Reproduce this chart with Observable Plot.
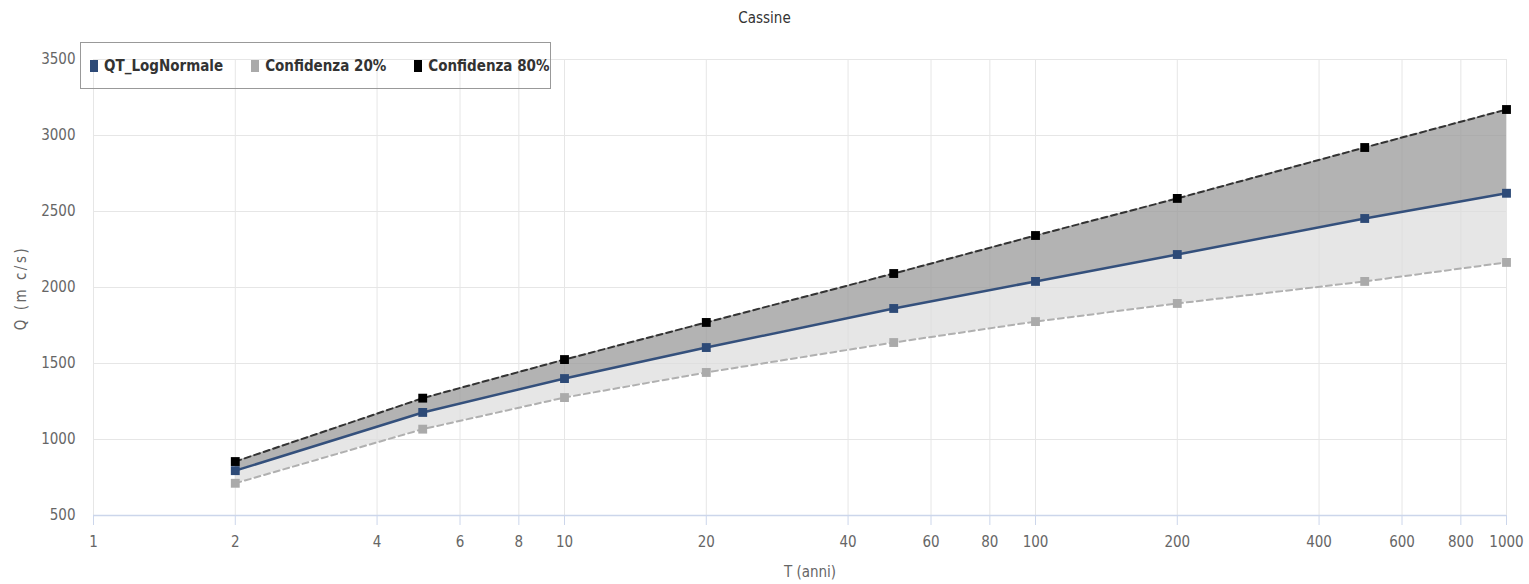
<!DOCTYPE html>
<html><head><meta charset="utf-8">
<script src="https://cdn.jsdelivr.net/npm/d3@7"></script>
<script src="https://cdn.jsdelivr.net/npm/@observablehq/plot@0.6"></script>
<style>
body{margin:0;background:#fff;font-family:"DejaVu Sans Condensed","DejaVu Sans",sans-serif;font-stretch:condensed;}
svg text{font-stretch:condensed;}
#wrap{position:relative;width:1529px;height:584px;}
#title{position:absolute;left:0;top:9px;width:1529px;text-align:center;font-size:15px;color:#333;}
#legend{position:absolute;left:80px;top:42px;width:471px;height:47px;border:1px solid #999;box-sizing:border-box;display:flex;align-items:center;padding-left:9px;font-weight:bold;font-size:15px;color:#333;white-space:nowrap;}
#legend span.item{display:flex;align-items:center;margin-right:28px;}
#legend i{display:inline-block;width:8px;height:12px;margin-right:6px;}
#ylab{position:absolute;left:21px;top:288px;transform:translate(-50%,-50%) rotate(-90deg);font-size:15px;color:#666;letter-spacing:2.5px;white-space:nowrap;}
#xlab{position:absolute;left:0;width:1620px;top:563px;text-align:center;font-size:15px;color:#666;}
</style></head>
<body><div id="wrap">
<div id="chart"></div>
<div id="title">Cassine</div>
<div id="ylab">Q (m c/s)</div>
<div id="xlab">T (anni)</div>
<div id="legend">
<span class="item"><i style="background:#2d4a77"></i>QT_LogNormale</span>
<span class="item"><i style="background:#aaaaaa"></i>Confidenza 20%</span>
<span class="item"><i style="background:#000"></i>Confidenza 80%</span>
</div>
</div>
<script>
const T = [2,5,10,20,50,100,200,500,1000];
const qt = [795,1178,1401,1605,1862,2040,2217,2454,2620];
const c20 = [712,1068,1276,1441,1638,1776,1895,2040,2165];
const c80 = [855,1272,1526,1770,2092,2342,2586,2921,3171];
const xTicks = [1,2,4,6,8,10,20,40,60,80,100,200,400,600,800,1000];
const yTicks = [500,1000,1500,2000,2500,3000,3500];

const rows = T.map((t,i)=>({T:t, qt:qt[i], c20:c20[i], c80:c80[i]}));
const font = `"DejaVu Sans Condensed","DejaVu Sans",sans-serif`;

const chart = Plot.plot({
  width:1529, height:584,
  marginLeft:93, marginRight:23, marginTop:59, marginBottom:69,
  style:{fontFamily:font, fontSize:"14px", color:"#666", background:"#fff"},
  x:{type:"log", domain:[1,1000]},
  y:{domain:[500,3500]},
  marks:[
    Plot.gridX(xTicks,{stroke:"#e6e6e6", strokeOpacity:1}),
    Plot.gridY(yTicks.slice(1),{stroke:"#e6e6e6", strokeOpacity:1}),
    Plot.areaY(rows,{x:"T", y1:"c20", y2:"qt", fill:"#dcdcdc", fillOpacity:0.7}),
    Plot.areaY(rows,{x:"T", y1:"qt", y2:"c80", fill:"#9a9a9a", fillOpacity:0.75}),
    Plot.ruleY([500],{stroke:"#ccd6eb", strokeWidth:1.5}),
    Plot.axisX(xTicks,{tickSize:10, stroke:"#ccd6eb", label:null, tickFormat:()=>""}),
    Plot.text(xTicks,{x:d=>d, y:500, dy:27, text:d=>String(d), fill:"#666", fontSize:15}),
    Plot.axisY(yTicks,{tickSize:0, tickPadding:18, label:null, fill:"#666", fontSize:15, tickFormat:d=>String(d)}),
    Plot.line(rows,{x:"T", y:"c20", stroke:"#b0b0b0", strokeWidth:2, strokeDasharray:"6,4"}),
    Plot.line(rows,{x:"T", y:"c80", stroke:"#333", strokeWidth:2, strokeDasharray:"6,4"}),
    Plot.line(rows,{x:"T", y:"qt", stroke:"#34507c", strokeWidth:2.5}),
    Plot.dot(rows,{x:"T", y:"c20", symbol:"square", r:5, fill:"#aaaaaa"}),
    Plot.dot(rows,{x:"T", y:"c80", symbol:"square", r:5, fill:"#000"}),
    Plot.dot(rows,{x:"T", y:"qt", symbol:"square", r:5, fill:"#2d4a77"})
  ]
});
document.getElementById("chart").appendChild(chart);
</script>
</body></html>
